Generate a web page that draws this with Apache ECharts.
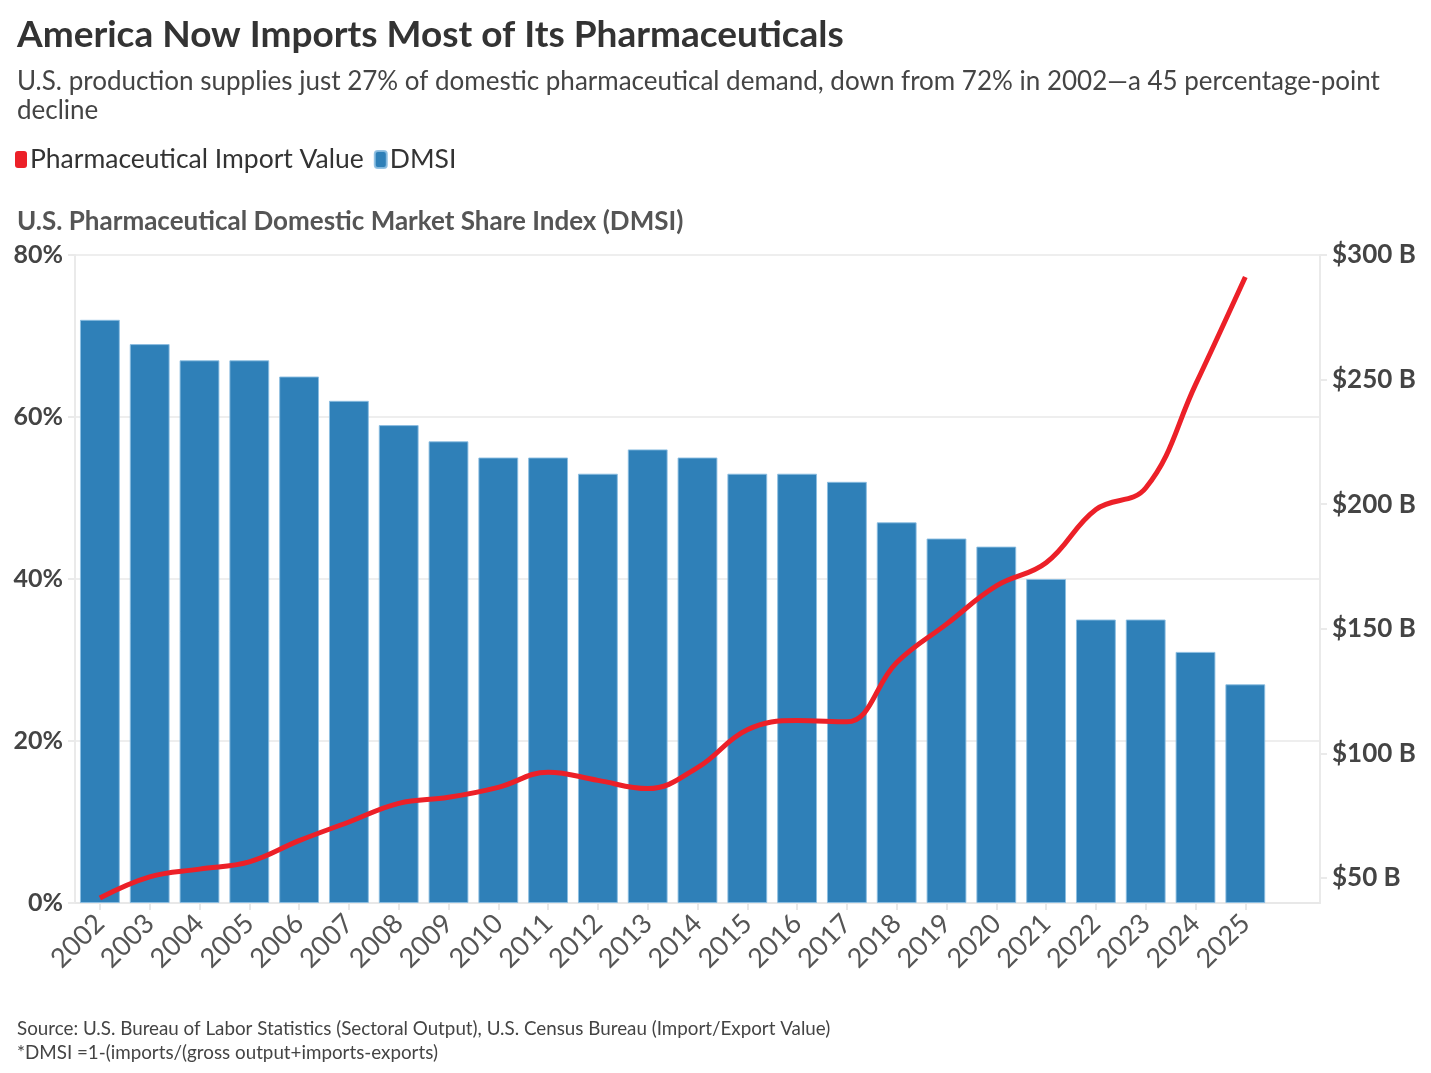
<!DOCTYPE html>
<html>
<head>
<meta charset="utf-8">
<title>America Now Imports Most of Its Pharmaceuticals</title>
<script src="https://cdn.jsdelivr.net/npm/echarts@6.0.0/dist/echarts.min.js"></script>
<style>
  html, body { margin: 0; padding: 0; background: #fff; }
  #main { width: 1431px; height: 1073px; }
</style>
</head>
<body>
<div id="main"></div>
<script>
var years = ['2002', '2003', '2004', '2005', '2006', '2007', '2008', '2009', '2010', '2011', '2012', '2013',
  '2014', '2015', '2016', '2017', '2018', '2019', '2020', '2021', '2022', '2023', '2024', '2025'];

// DMSI, percent
var dmsi = [72, 69, 67, 67, 65, 62, 59, 57, 55, 55, 53, 56, 55, 53, 53, 52, 47, 45, 44, 40, 35, 35, 31, 27];

// pharmaceutical import value, $ billions
var imports = [42, 50.5, 53.6, 56.5, 65, 72.5, 80, 82.4, 86.4, 92.5, 89.2, 85.9, 94.3, 109.5, 113.2, 112.7,
  136.5, 151.9, 167.2, 176.5, 197.9, 206.5, 248, 291.2];

var pctTicks = [0, 20, 40, 60, 80];
var usdTicks = [50, 100, 150, 200, 250, 300];

var font = 'Lato';
var myChart = echarts.init(document.getElementById('main'));

// one empty slot after 2025, the plot runs on past the last bar
var xData = years.concat(['']);

var option = {
  backgroundColor: '#fff',
  textStyle: { fontFamily: font },
  title: [{
    text: 'America Now Imports Most of Its Pharmaceuticals',
    left: 12,
    top: 12,
    textStyle: { fontFamily: font, fontSize: 37, fontWeight: 'bold', color: '#333' }
  }, {
    text: 'U.S. production supplies just 27% of domestic pharmaceutical demand, down from 72% in 2002\u2014a 45 percentage-point\ndecline',
    left: 12,
    top: 62,
    textStyle: { fontFamily: font, fontSize: 26, fontWeight: 'normal', color: '#444', lineHeight: 29 }
  }, {
    text: 'U.S. Pharmaceutical Domestic Market Share Index (DMSI)',
    left: 12,
    top: 204,
    textStyle: { fontFamily: font, fontSize: 26, fontWeight: 'bold', color: '#555' }
  }, {
    text: 'Source: U.S. Bureau of Labor Statistics (Sectoral Output), U.S. Census Bureau (Import/Export Value)\n*DMSI =1-(imports/(gross output+imports-exports)',
    left: 12,
    top: 1012,
    textStyle: { fontFamily: font, fontSize: 18.8, fontWeight: 'normal', color: '#444', lineHeight: 24 }
  }],
  legend: {
    left: 10,
    top: 141,
    icon: 'roundRect',
    itemWidth: 12,
    itemHeight: 17,
    itemGap: 10,
    textStyle: { fontFamily: font, fontSize: 26.5, color: '#333', padding: [0, 0, 0, -2] },
    data: ['Pharmaceutical Import Value', 'DMSI']
  },
  grid: { left: 75, right: 111, top: 255, bottom: 170, containLabel: false },
  xAxis: {
    type: 'category',
    data: xData,
    axisLine: { show: true, lineStyle: { color: '#e8e8e8', width: 2 } },
    axisTick: {
      show: true,
      alignWithLabel: true,
      length: 7,
      interval: function (i) { return i < years.length; },
      lineStyle: { color: '#e8e8e8', width: 2 }
    },
    axisLabel: {
      interval: 0,
      rotate: 45,
      margin: 16,
      fontFamily: font,
      fontSize: 27,
      color: '#555'
    },
    splitLine: { show: false }
  },
  yAxis: [{
    type: 'value',
    min: 0,
    max: 80,
    interval: 20,
    position: 'left',
    axisLine: { show: true, lineStyle: { color: '#eaeaea', width: 2 } },
    axisTick: { show: true, length: 7, lineStyle: { color: '#eaeaea', width: 2 } },
    axisLabel: {
      margin: 12,
      fontFamily: font,
      fontSize: 25,
      fontWeight: 'bold',
      color: '#444',
      formatter: function (v) { return pctTicks.indexOf(v) > -1 ? v + '%' : ''; }
    },
    splitLine: { show: true, lineStyle: { color: '#eeeeee', width: 2 } }
  }, {
    type: 'value',
    min: 40,
    max: 300,
    position: 'right',
    axisLine: { show: true, lineStyle: { color: '#eaeaea', width: 2 } },
    axisTick: { show: true, length: 7, customValues: usdTicks, lineStyle: { color: '#eaeaea', width: 2 } },
    axisLabel: {
      margin: 12,
      customValues: usdTicks,
      fontFamily: font,
      fontSize: 26,
      fontWeight: 'bold',
      color: '#444',
      formatter: function (v) { return '$' + v + ' B'; }
    },
    splitLine: { show: false }
  }],
  series: [{
    name: 'DMSI',
    type: 'bar',
    yAxisIndex: 0,
    barCategoryGap: '20%',
    itemStyle: { color: '#2f80b8', borderColor: 'rgba(140,190,225,0.9)', borderWidth: 1 },
    data: dmsi,
    z: 2
  }, {
    name: 'Pharmaceutical Import Value',
    type: 'line',
    yAxisIndex: 1,
    smooth: 0.4,
    symbol: 'none',
    itemStyle: { color: '#ec2028' },
    lineStyle: { color: '#ec2028', width: 5 },
    data: imports,
    z: 3
  }]
};
myChart.setOption(option);
</script>
</body>
</html>
